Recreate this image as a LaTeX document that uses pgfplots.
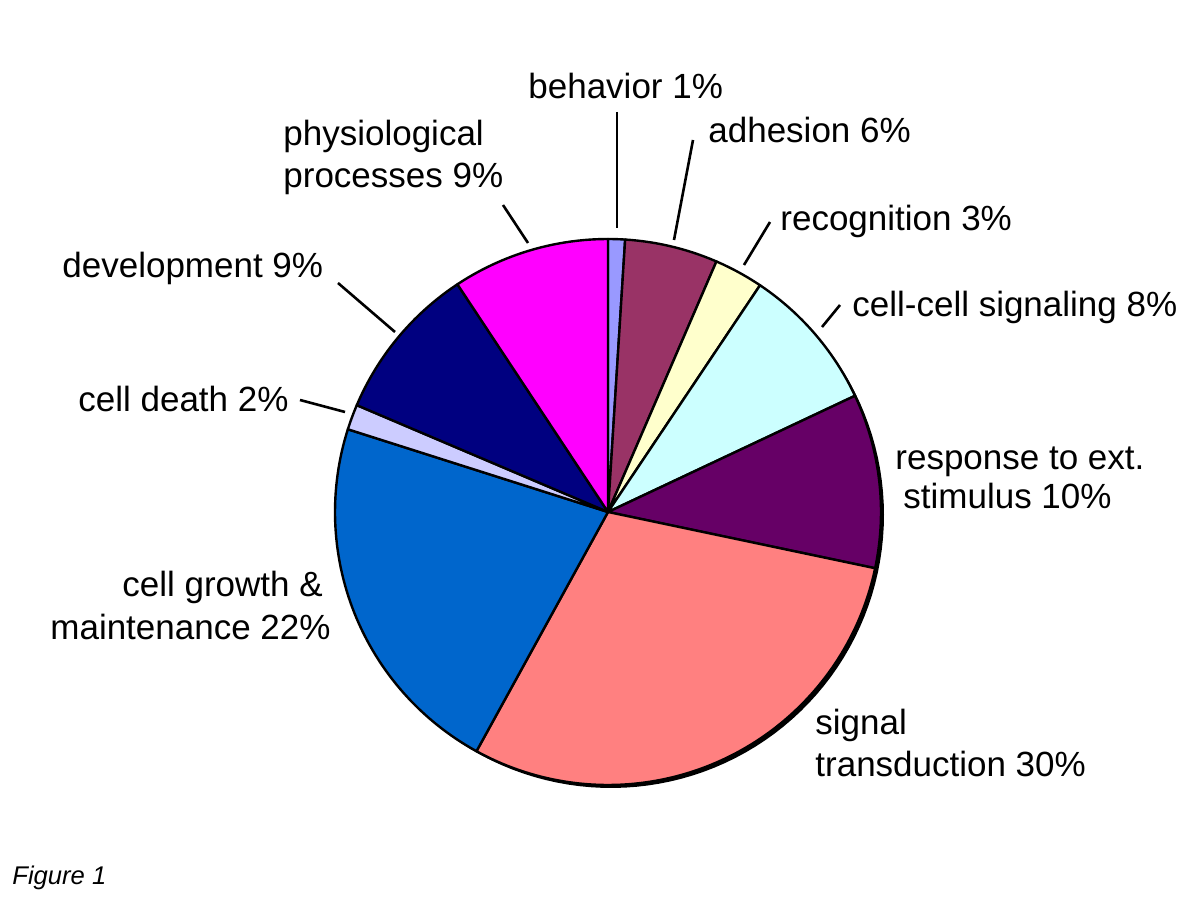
\documentclass[border=0pt]{standalone}
\usepackage{pgfplots}
\pgfplotsset{compat=1.18}
\usepackage{fontspec}
\setmainfont{Liberation Sans}
\definecolor{cbeh}{HTML}{9999FF}
\definecolor{cadh}{HTML}{993366}
\definecolor{crec}{HTML}{FFFFCC}
\definecolor{ccell}{HTML}{CCFFFF}
\definecolor{cresp}{HTML}{660066}
\definecolor{csig}{HTML}{FF8080}
\definecolor{cgrow}{HTML}{0066CC}
\definecolor{cdeath}{HTML}{CCCCFF}
\definecolor{cdev}{HTML}{000080}
\definecolor{cphys}{HTML}{FF00FF}
\tikzset{lbl/.style={anchor=base west, inner sep=0pt, font=\fontsize{17.5pt}{21pt}\selectfont}}
\begin{document}
\begin{tikzpicture}
\begin{axis}[
  width=600pt, height=450pt, scale only axis,
  xmin=0, xmax=1200, ymin=0, ymax=900,
  hide axis, clip=false,
]
% invisible frame (bounding box)
\addplot[draw=none, forget plot] coordinates {(0,0) (1200,900)};
% shadow
\addplot[fill=black, draw=none, domain=0:360, samples=150] ({611+273*cos(x)},{385+273*sin(x)}) -- cycle;
% wedges: shares (percent) as drawn, clockwise from 12 o'clock
\gdef\cum{0}
\foreach \p/\c in {1.0/cbeh,5.5/cadh,2.9/crec,8.6/ccell,10.3/cresp,29.7/csig,21.9/cgrow,1.5/cdeath,9.3/cdev,9.3/cphys}{
  \pgfmathsetmacro\a{90-3.6*\cum}
  \pgfmathsetmacro\b{90-3.6*(\cum+\p)}
  \pgfmathtruncatemacro\n{max(4,\p*3)}
  \edef\temp{\noexpand\addplot[draw=black, line width=1.2pt, fill=\c, line join=round, domain=\b:\a, samples=\n] ({608+273*cos(x)},{388+273*sin(x)}) -- (axis cs:608,388) -- cycle;}
  \temp
  \pgfmathsetmacro\newcum{\cum+\p}
  \global\let\cum\newcum
}
% leader lines
\addplot[black, line width=1.3pt] coordinates {(617,788) (617,672)};
\addplot[black, line width=1.3pt] coordinates {(503,695) (528,657)};
\addplot[black, line width=1.3pt] coordinates {(693,760) (674,660)};
\addplot[black, line width=1.3pt] coordinates {(770,678) (744,635)};
\addplot[black, line width=1.3pt] coordinates {(840,595) (822,573)};
\addplot[black, line width=1.3pt] coordinates {(338,617) (395,568)};
\addplot[black, line width=1.3pt] coordinates {(300,500) (345,488)};
% labels
\node[lbl] at (axis cs:528,801) {behavior 1\%};
\node[lbl] at (axis cs:283,754) {physiological};
\node[lbl] at (axis cs:283,712) {processes 9\%};
\node[lbl] at (axis cs:708,757) {adhesion 6\%};
\node[lbl] at (axis cs:780,669) {recognition 3\%};
\node[lbl] at (axis cs:852,583) {cell-cell signaling 8\%};
\node[lbl] at (axis cs:62,622) {development 9\%};
\node[lbl] at (axis cs:78,488) {cell death 2\%};
\node[lbl] at (axis cs:895,430) {response to ext.};
\node[lbl] at (axis cs:903,391) {stimulus 10\%};
\node[lbl] at (axis cs:122,303) {cell growth \&};
\node[lbl] at (axis cs:50,260) {maintenance 22\%};
\node[lbl] at (axis cs:815,165) {signal};
\node[lbl] at (axis cs:815,123) {transduction 30\%};
\node[lbl, font=\fontsize{12.8pt}{15pt}\selectfont\itshape] at (axis cs:12,15) {Figure 1};
\end{axis}
\end{tikzpicture}
\end{document}
